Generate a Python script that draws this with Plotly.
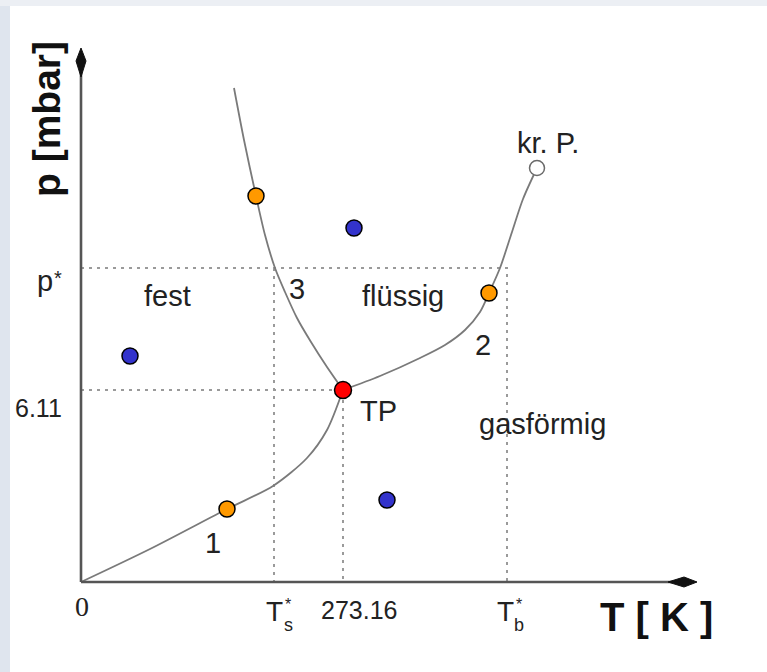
import plotly.graph_objects as go

# ---- schematic data (arbitrary T / p units of the diagram) ----
# sublimation curve (1): from origin to triple point
T_sub = [0, 69, 146, 192, 226, 246, 262]
p_sub = [0, 33, 73, 96, 124, 152, 192]
# melting curve (3): from top down to triple point
T_melt = [153, 163, 175, 184, 194, 204, 216, 230, 246, 262]
p_melt = [494, 442, 386, 347, 314, 290, 264, 240, 215, 192]
# vaporization curve (2): from triple point to critical point
T_vap = [262, 299, 339, 364, 384, 399, 408, 419, 431, 442, 456]
p_vap = [192, 206, 224, 237, 252, 270, 289, 314, 350, 383, 414]

# special points
T_tp, p_tp = [262], [192]
T_orange = [146, 175, 408]
p_orange = [73, 386, 289]
T_blue = [49, 273, 306]
p_blue = [226, 354, 82]
T_crit, p_crit = [456], [414]

# reference values
T_s_star = 193
T_triple = 262
T_b_star = 424
p_star = 314
p_triple = 192
T_axis_end = 616
p_axis_end = 534

# tick labels
T_tick_main = ["0", "T", "273.16", "T"]
T_tick_sub = ["", "s", "", "b"]
p_tick_text = ["6.11", "p"]

# region labels: text, T, p
region_text = ["fest", "flüssig", "gasförmig", "1", "2", "3", "TP", "kr. P."]
region_T = [86, 322, 461, 132, 402, 216, 297, 467]
region_p = [286, 286, 158, 39, 237, 293, 171, 439]

FONT = "Liberation Sans, Arial, Helvetica, sans-serif"
TXT = "#222222"
CURVE = "#7a7a7a"
DOT = "#9a9a9a"
AXIS = "#555555"

fig = go.Figure()

# dotted guide lines
guides = [
    ([0, T_b_star + 2, T_b_star + 2], [p_star, p_star, 0]),
    ([0, T_triple, T_triple], [p_triple, p_triple, 0]),
    ([T_s_star, T_s_star], [p_star, 0]),
]
for gx, gy in guides:
    fig.add_trace(go.Scatter(x=gx, y=gy, mode="lines",
                             line=dict(color=DOT, width=2, dash="3px,5px"),
                             hoverinfo="skip", showlegend=False))

# phase boundary curves
for cx, cy in [(T_sub, p_sub), (T_melt, p_melt), (T_vap, p_vap)]:
    fig.add_trace(go.Scatter(x=cx, y=cy, mode="lines",
                             line=dict(color=CURVE, width=1.8, shape="spline", smoothing=0.8),
                             hoverinfo="skip", showlegend=False))

# axes as lines
fig.add_trace(go.Scatter(x=[0, T_axis_end - 20], y=[0, 0], mode="lines",
                         line=dict(color=AXIS, width=2.6), showlegend=False, hoverinfo="skip"))
fig.add_trace(go.Scatter(x=[0, 0], y=[0, p_axis_end - 20], mode="lines",
                         line=dict(color=AXIS, width=2.6), showlegend=False, hoverinfo="skip"))

# markers
fig.add_trace(go.Scatter(x=T_crit, y=p_crit, mode="markers",
                         marker=dict(size=15, color="white", line=dict(color="#6a6a6a", width=1.5)),
                         showlegend=False))
fig.add_trace(go.Scatter(x=T_orange, y=p_orange, mode="markers",
                         marker=dict(size=16, color="#ff9900", line=dict(color="black", width=1.5)),
                         showlegend=False))
fig.add_trace(go.Scatter(x=T_blue, y=p_blue, mode="markers",
                         marker=dict(size=16, color="#3333cc", line=dict(color="black", width=1.5)),
                         showlegend=False))
fig.add_trace(go.Scatter(x=T_tp, y=p_tp, mode="markers",
                         marker=dict(size=17, color="#ff0000", line=dict(color="black", width=1.5)),
                         showlegend=False))

shapes = []
# arrowheads (kite shaped)
ax = T_axis_end
shapes.append(dict(type="path", xref="x", yref="y",
                   path=f"M {ax},0 L {ax-13},5 L {ax-29},0 L {ax-13},-5 Z",
                   fillcolor="#111111", line=dict(color="#111111", width=1)))
ay = p_axis_end
shapes.append(dict(type="path", xref="x", yref="y",
                   path=f"M 0,{ay} L 5,{ay-13} L 0,{ay-29} L -5,{ay-13} Z",
                   fillcolor="#111111", line=dict(color="#111111", width=1)))
# background strips of the surrounding page
shapes.append(dict(type="rect", xref="paper", yref="paper", x0=0, x1=10/767, y0=0, y1=1,
                   fillcolor="#dfe5ee", line=dict(width=0), layer="below"))
shapes.append(dict(type="rect", xref="paper", yref="paper", x0=0, x1=1, y0=1-6/672, y1=1,
                   fillcolor="#eceff4", line=dict(width=0), layer="below"))

ann = []
for t, x, y in zip(region_text, region_T, region_p):
    ann.append(dict(x=x, y=y, text=t, showarrow=False, xanchor="center", yanchor="middle",
                    font=dict(family=FONT, size=29, color=TXT)))

# tick labels on T axis
ann.append(dict(x=1, y=-24, text=T_tick_main[0], showarrow=False,
                font=dict(family="Liberation Serif, Times New Roman, serif", size=28, color=TXT)))
ann.append(dict(x=278, y=-28, text=T_tick_main[2], showarrow=False,
                font=dict(family=FONT, size=25, color=TXT)))
for tx, main, sub in [(T_s_star, T_tick_main[1], T_tick_sub[1]),
                      (T_b_star, T_tick_main[3], T_tick_sub[3])]:
    ann.append(dict(x=tx, y=-29.3, text=main, showarrow=False, borderpad=0,
                    font=dict(family=FONT, size=28, color=TXT)))
    ann.append(dict(x=tx + 14, y=-43, text=sub, showarrow=False, borderpad=0,
                    font=dict(family=FONT, size=18, color=TXT)))
    ann.append(dict(x=tx + 13.5, y=-22.5, text="*", showarrow=False, borderpad=0,
                    font=dict(family=FONT, size=16, color=TXT)))
# tick labels on p axis
ann.append(dict(x=-43, y=174, text=p_tick_text[0], showarrow=False,
                font=dict(family=FONT, size=25, color=TXT)))
ann.append(dict(x=-36, y=301, text=p_tick_text[1], showarrow=False, borderpad=0,
                font=dict(family=FONT, size=29, color=TXT)))
ann.append(dict(x=-23, y=304, text="*", showarrow=False, borderpad=0,
                font=dict(family=FONT, size=20, color=TXT)))
# axis titles
ann.append(dict(x=575, y=-35, text="<b>T [ K ]</b>", showarrow=False,
                font=dict(family=FONT, size=40, color="#111111")))
ann.append(dict(x=-35, y=463, text="<b>p [mbar]</b>", showarrow=False, textangle=-90,
                font=dict(family=FONT, size=39, color="#111111")))

fig.update_layout(
    width=767, height=672,
    margin=dict(l=0, r=0, t=0, b=0),
    paper_bgcolor="white", plot_bgcolor="white",
    xaxis=dict(range=[-81, 686], visible=False, fixedrange=True),
    yaxis=dict(range=[-90, 582], visible=False, fixedrange=True),
    shapes=shapes, annotations=ann, showlegend=False,
)

fig.write_html("out.html", config={"displayModeBar": False},
               post_script="document.body.style.margin='0';document.body.style.overflow='hidden';")
